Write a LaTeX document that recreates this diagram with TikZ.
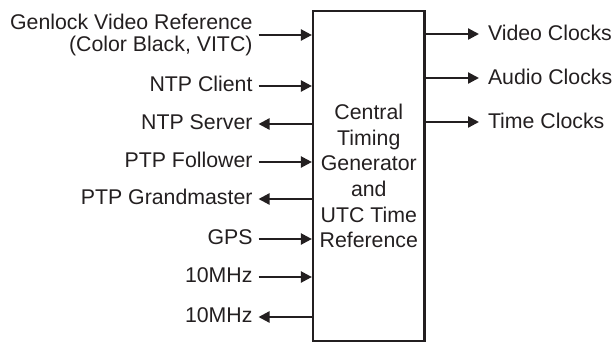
\documentclass[tikz,border=0pt]{standalone}
\usepackage{fontspec}
\setmainfont{Liberation Sans}
\usetikzlibrary{arrows.meta}
\definecolor{ink}{HTML}{231F20}
\tikzset{
  arr/.style={draw=ink, line width=2.3pt, -{Triangle[length=11pt,width=11pt]}},
  lab/.style={text=ink, inner sep=0pt, font=\fontsize{21.3}{22.5}\selectfont},
  llab/.style={lab, anchor=east, outer xsep=6pt, text height=10pt, text depth=0pt},
  rlab/.style={lab, anchor=west, outer xsep=9pt, text height=12pt, text depth=0pt},
  core/.style={draw=ink, line width=2.3pt, minimum width=111.5pt, minimum height=329.5pt, inner sep=0pt, align=center, text=ink, font=\fontsize{21.3}{25.6}\selectfont}
}
\begin{document}
\begin{tikzpicture}[x=1pt,y=-1pt]
\useasboundingbox (0,0) rectangle (613,343);
\node[core] (box) at (368.8,176) {Central\\Timing\\Generator\\and\\UTC Time\\Reference};
% left side labels
\node[lab, anchor=east, outer xsep=6pt, align=right] (l1) at (258.5,35) {Genlock Video Reference\\(Color Black, VITC)};
\node[llab] (l2) at (258.5,86) {NTP Client};
\node[llab] (l3) at (258.5,124) {NTP Server};
\node[llab] (l4) at (258.5,162) {PTP Follower};
\node[llab] (l5) at (258.5,199) {PTP Grandmaster};
\node[llab] (l6) at (258.5,239) {GPS};
\node[llab] (l7) at (258.5,277) {10MHz};
\node[llab] (l8) at (258.5,317) {10MHz};
% right side labels
\node[rlab] (r1) at (479,34) {Video Clocks};
\node[rlab] (r2) at (479,78) {Audio Clocks};
\node[rlab] (r3) at (479,122) {Time Clocks};
% inputs
\draw[arr] (l1) -- (l1 -| box.west);
\draw[arr] (l2) -- (l2 -| box.west);
\draw[arr] (l4) -- (l4 -| box.west);
\draw[arr] (l6) -- (l6 -| box.west);
\draw[arr] (l7) -- (l7 -| box.west);
% outputs on the left
\draw[arr] (l3 -| box.west) -- (l3);
\draw[arr] (l5 -| box.west) -- (l5);
\draw[arr] (l8 -| box.west) -- (l8);
% outputs on the right
\draw[arr] (r1 -| box.east) -- (r1);
\draw[arr] (r2 -| box.east) -- (r2);
\draw[arr] (r3 -| box.east) -- (r3);
\end{tikzpicture}
\end{document}
